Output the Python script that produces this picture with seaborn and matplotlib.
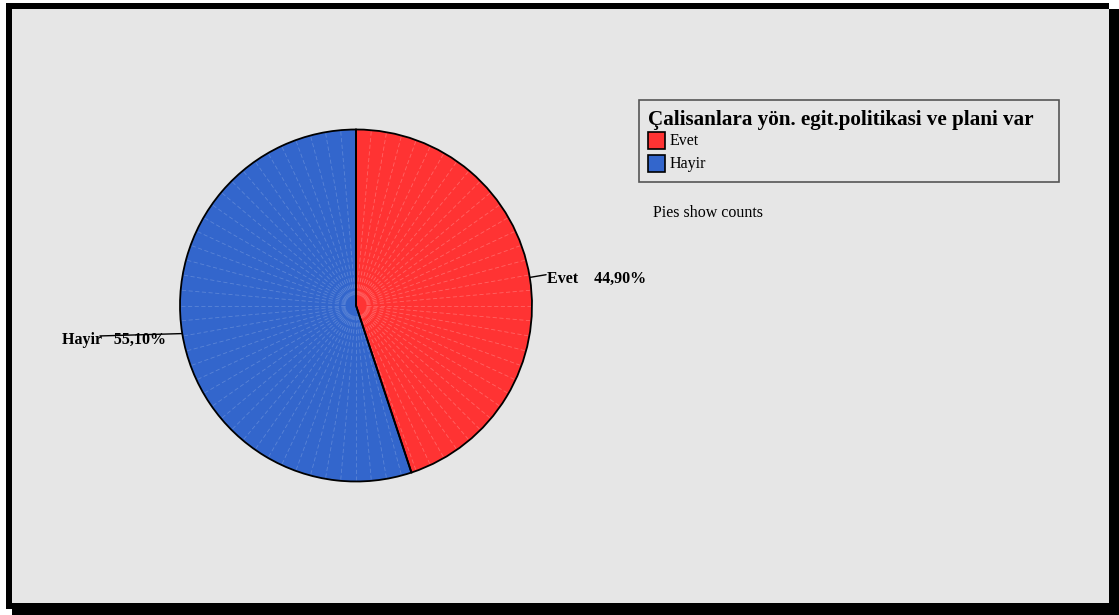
import numpy as np
import matplotlib
matplotlib.use("Agg")
import matplotlib.pyplot as plt
from matplotlib.patches import Rectangle, Wedge
import seaborn as sns

# Survey answer shares (percent)
categories = ["Evet", "Hayir"]
shares = [44.90, 55.10]
label_texts = ["Evet    44,90%", "Hayir   55,10%"]
legend_title = "Çalisanlara yön. egit.politikasi ve plani var"
footnote = "Pies show counts"

sns.set_theme(style="white")
plt.rcParams["font.family"] = ["Liberation Serif", "DejaVu Serif"]

colors = ["#ff3333", "#3366cc"]
facet_colors = ["#ff6464", "#5a84d6"]

W, H = 1119, 615
fig = plt.figure(figsize=(W / 100, H / 100), dpi=100, facecolor="white")


def fx(x):
    return x / W


def fy(y):
    return 1 - y / H


def frect(x0, y0, x1, y1, **kw):
    r = Rectangle((fx(x0), fy(y1)), fx(x1) - fx(x0), fy(y0) - fy(y1),
                  transform=fig.transFigure, **kw)
    fig.patches.append(r)
    return r


# Framed panel with drop shadow
frect(6, 3, 1109, 609, facecolor="black", edgecolor="none", zorder=-30)
frect(12, 9, 1119, 615, facecolor="black", edgecolor="none", zorder=-30)
frect(12, 9, 1109, 603, facecolor="#e6e6e6", edgecolor="none", zorder=-20)

# Pie axes: centre (356, 305.5), radius 176 px
cx, cy, R = 356, 305.5, 176
ax = fig.add_axes([fx(cx - R), fy(cy + R), fx(2 * R), fy(cy - R) - fy(cy + R)])
ax.set_axis_off()
ax.patch.set_alpha(0)

wedges, _ = ax.pie(shares, colors=colors, startangle=90, counterclock=False,
                   radius=1, wedgeprops=dict(edgecolor="none", linewidth=0))
ax.set_aspect("auto")
ax.set_xlim(-1, 1)
ax.set_ylim(-1, 1)

# Faint radial facet lines inside each wedge
for w, fc in zip(wedges, facet_colors):
    t1, t2 = sorted([w.theta1, w.theta2])
    for a in np.arange(np.ceil(t1 / 5) * 5, t2, 5):
        if abs(a - t1) < 1 or abs(a - t2) < 1:
            continue
        r = np.deg2rad(a)
        ax.plot([0.06 * np.cos(r), 0.995 * np.cos(r)],
                [0.06 * np.sin(r), 0.995 * np.sin(r)],
                color=fc, lw=0.6, ls=(0, (5, 3)), zorder=2)
    w.set_zorder(1)

# Outline drawn above facet lines
for w in wedges:
    ax.add_patch(Wedge((0, 0), 1, w.theta1, w.theta2, facecolor="none",
                       edgecolor="black", lw=1.3, zorder=3, clip_on=False))

# Value labels with leader lines from wedge midpoints
label_pos = [(1.085, 0.15), (-1.67, -0.197)]
line_ends = [(1.08, 0.175), (-1.455, -0.173)]
for w, txt, pos, end in zip(wedges, label_texts, label_pos, line_ends):
    mid = np.deg2rad((w.theta1 + w.theta2) / 2)
    p0 = (np.cos(mid), np.sin(mid))
    ax.plot([p0[0], end[0]], [p0[1], end[1]], color="black", lw=1.0,
            clip_on=False, zorder=5)
    ax.text(pos[0], pos[1], txt, ha="left", va="center", fontsize=11.5,
            fontweight="bold", color="black", clip_on=False, zorder=4)

# Legend box
frect(639, 100, 1059, 182, facecolor="none", edgecolor="#555555", lw=1.2, zorder=5)
fig.text(fx(648), fy(120), legend_title, ha="left", va="center",
         fontsize=15.2, fontweight="bold", color="black")
for i, (cat, col) in enumerate(zip(categories, colors)):
    y0 = 132 + i * 23
    frect(648, y0, 665, y0 + 17, facecolor=col, edgecolor="black", lw=1.2, zorder=6)
    fig.text(fx(670), fy(y0 + 9), cat, ha="left", va="center",
             fontsize=11.5, color="black")

fig.text(fx(653), fy(213), footnote, ha="left", va="center",
         fontsize=11.5, color="black")

fig.savefig("out.png", dpi=100, facecolor="white")
